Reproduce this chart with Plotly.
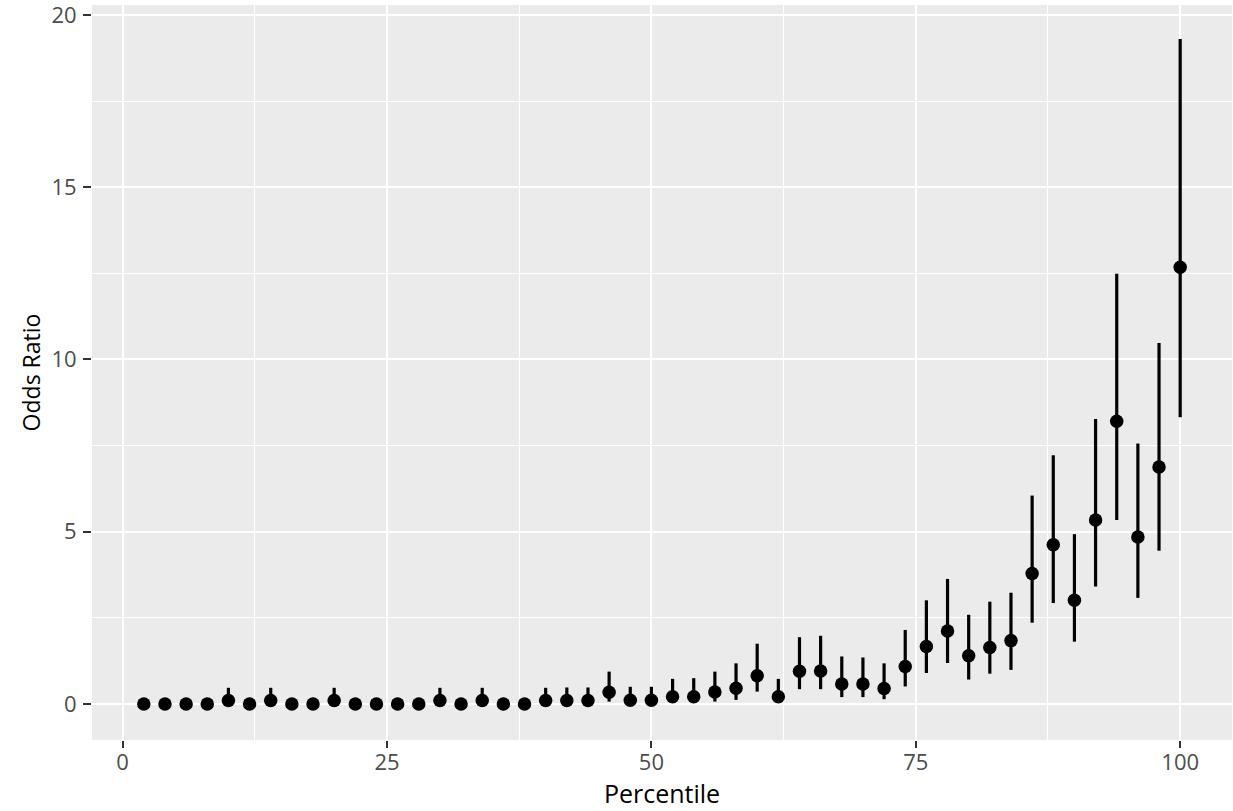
import plotly.graph_objects as go

percentile = list(range(2, 101, 2))
odds_ratio = [0.0, 0.0, 0.0, 0.0, 0.1, 0.0, 0.1, 0.0, 0.0, 0.1,
              0.0, 0.0, 0.0, 0.0, 0.1, 0.0, 0.1, 0.0, 0.0, 0.1,
              0.1, 0.1, 0.34, 0.11, 0.11, 0.21, 0.21, 0.35, 0.46, 0.82,
              0.21, 0.95, 0.96, 0.58, 0.58, 0.45, 1.09, 1.67, 2.12, 1.40,
              1.64, 1.84, 3.79, 4.62, 3.01, 5.34, 8.21, 4.85, 6.88, 12.68]
upper = [0.03, 0.03, 0.03, 0.03, 0.47, 0.03, 0.47, 0.03, 0.03, 0.47,
         0.03, 0.03, 0.03, 0.03, 0.47, 0.03, 0.47, 0.03, 0.03, 0.47,
         0.48, 0.48, 0.94, 0.5, 0.5, 0.73, 0.75, 0.94, 1.18, 1.75,
         0.73, 1.94, 1.98, 1.38, 1.35, 1.18, 2.15, 3.01, 3.63, 2.59,
         2.97, 3.23, 6.05, 7.22, 4.93, 8.27, 12.49, 7.56, 10.48, 19.30]
lower = [0.0, 0.0, 0.0, 0.0, 0.01, 0.0, 0.01, 0.0, 0.0, 0.01,
         0.0, 0.0, 0.0, 0.0, 0.01, 0.0, 0.01, 0.0, 0.0, 0.01,
         0.01, 0.01, 0.07, 0.02, 0.02, 0.04, 0.04, 0.07, 0.12, 0.36,
         0.04, 0.43, 0.43, 0.2, 0.2, 0.14, 0.51, 0.90, 1.19, 0.71,
         0.88, 0.99, 2.36, 2.93, 1.81, 3.41, 5.34, 3.08, 4.45, 8.32]

err_plus = [u - v for u, v in zip(upper, odds_ratio)]
err_minus = [v - l for v, l in zip(odds_ratio, lower)]

fig = go.Figure()
fig.add_trace(go.Scatter(
    x=percentile, y=odds_ratio, mode="markers",
    marker=dict(color="black", size=13.5),
    error_y=dict(type="data", symmetric=False, array=err_plus, arrayminus=err_minus,
                 color="black", thickness=3.2, width=0),
    showlegend=False,
))

FONT = "Open Sans, sans-serif"
tick_font = dict(family=FONT, size=22, color="#4D4D4D")
fig.update_layout(
    width=1233, height=811,
    margin=dict(l=92, r=1, t=5, b=71),
    paper_bgcolor="white", plot_bgcolor="#EBEBEB",
    font=dict(family=FONT),
    xaxis=dict(
        range=[-2.9, 104.9], tickvals=[0, 25, 50, 75, 100], ticktext=["0", "25", "50", "75", "100"],
        showgrid=True, gridcolor="white", gridwidth=2, zeroline=False, automargin=False,
        ticks="outside", ticklen=7, tickwidth=2, tickcolor="#333333",
        tickfont=tick_font, ticklabelstandoff=-4, ticklabeloverflow="allow",
        minor=dict(tickvals=[12.5, 37.5, 62.5, 87.5], showgrid=True, gridcolor="white", gridwidth=1, ticks=""),
        title=dict(text="Percentile", font=dict(family=FONT, size=25, color="black"), standoff=0),
    ),
    yaxis=dict(
        range=[-1.045, 20.29], tickvals=[0, 5, 10, 15, 20], ticktext=["0", "5", "10", "15", "20"],
        showgrid=True, gridcolor="white", gridwidth=2, zeroline=False, automargin=False,
        ticks="outside", ticklen=8, tickwidth=2, tickcolor="#333333",
        tickfont=tick_font, ticklabelstandoff=2, ticklabeloverflow="allow",
        minor=dict(tickvals=[2.5, 7.5, 12.5, 17.5], showgrid=True, gridcolor="white", gridwidth=1, ticks=""),
        title=dict(text="Odds Ratio", font=dict(family=FONT, size=23, color="black"), standoff=4),
    ),
)

fig.write_html("out.html", config={"displayModeBar": False},
               post_script="document.body.style.margin='0';document.body.style.padding='0';")
